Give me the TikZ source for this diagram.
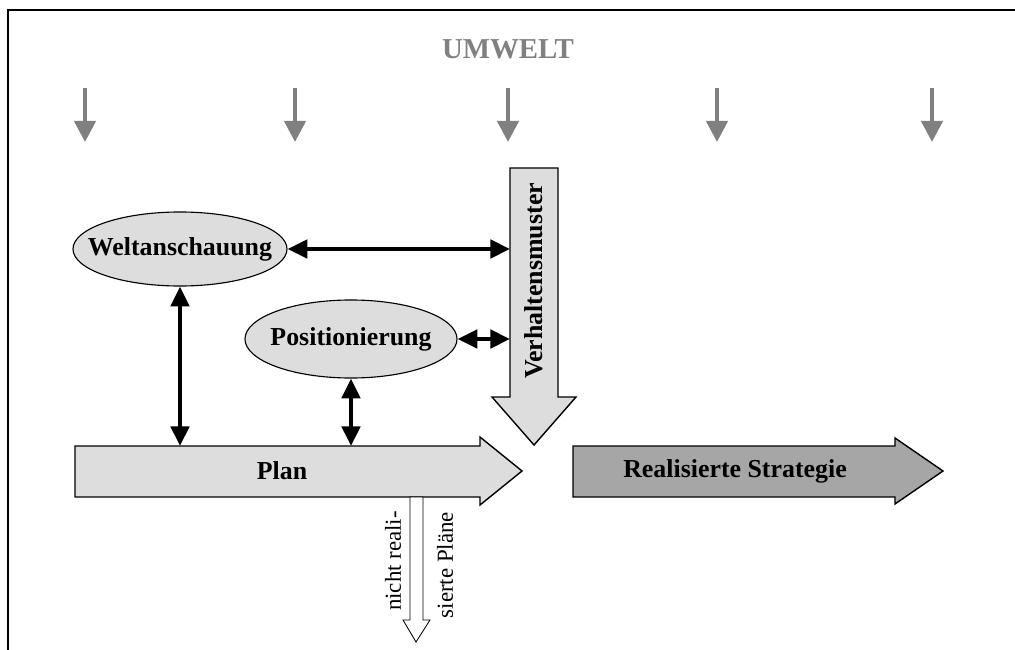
\documentclass[tikz,border=0pt]{standalone}
\usepackage{fontspec}
\setmainfont{Liberation Serif}
\usetikzlibrary{arrows.meta,shapes.geometric}
\definecolor{hellgrau}{RGB}{221,221,221}
\definecolor{dunkelgrau}{RGB}{166,166,166}
\definecolor{umweltgrau}{RGB}{128,128,128}

\begin{document}
\begin{tikzpicture}[x=0.025cm,y=-0.025cm,
    grosstext/.style={font=\fontsize{18.4}{20}\selectfont\bfseries},
    kleintext/.style={font=\fontsize{16.3}{18}\selectfont},
    blockpfeil/.style={draw=black, line width=1pt},
    ellip/.style={ellipse, draw, fill=hellgrau, inner sep=0pt, line width=0.8pt},
    doppelpfeil/.style={line width=2.8pt, {Triangle[width=13pt,length=14pt]}-{Triangle[width=13pt,length=14pt]}},
    umweltpfeil/.style={umweltgrau, line width=3pt, -{Triangle[width=15pt,length=15pt]}}]

    \useasboundingbox (0,0) rectangle (1015,650);
    \draw[line width=1.4pt] (1015,10) -- (8,10) -- (8,650);

    \node[umweltgrau, font=\fontsize{20.5}{22}\selectfont\bfseries] (umwelt) at (508,49) {UMWELT};

    \foreach \x in {85,295,508,717,932}
        \draw[umweltpfeil] (\x,88) -- (\x,142);

    \draw[blockpfeil, fill=hellgrau] (510,168) -- (558,168) -- (558,397) -- (576,397)
        -- (534,445) -- (492,397) -- (510,397) -- cycle;
    \node[grosstext, rotate=90] (verhalten) at (534,281) {Verhaltensmuster};

    \draw[blockpfeil, fill=hellgrau] (75,446) -- (480,446) -- (480,437) -- (522,471)
        -- (480,505) -- (480,497) -- (75,497) -- cycle;
    \node[grosstext] (plan) at (282,471) {Plan};

    \draw[blockpfeil, fill=dunkelgrau] (573,446) -- (895,446) -- (895,438) -- (943,471)
        -- (895,504) -- (895,497) -- (573,497) -- cycle;
    \node[grosstext] (strategie) at (735,471) {Realisierte Strategie};

    \draw[line width=0.6pt, fill=white] (410,497) -- (423,497) -- (423,620) -- (430,620)
        -- (416,642) -- (403,620) -- (410,620) -- cycle;
    \node[kleintext, rotate=90] (nicht) at (393,561) {nicht reali-};
    \node[kleintext, rotate=90] (sierte) at (445,565) {sierte Pläne};

    \node[ellip, minimum width=5.35cm, minimum height=1.85cm] (welt) at (180,249) {};
    \node[grosstext] (weltText) at (welt) {Weltanschauung};
    \node[ellip, minimum width=5.3cm, minimum height=1.95cm] (pos) at (351,339) {};
    \node[grosstext] (posText) at (pos) {Positionierung};

    \coordinate (verhL) at (510,0);
    \coordinate (planO) at (0,446);
    \draw[doppelpfeil] (welt.east) -- (welt.east -| verhL);
    \draw[doppelpfeil] (pos.east) -- (pos.east -| verhL);
    \draw[doppelpfeil] (welt.south) -- (welt.south |- planO);
    \draw[doppelpfeil] (pos.south) -- (pos.south |- planO);
\end{tikzpicture}
\end{document}
